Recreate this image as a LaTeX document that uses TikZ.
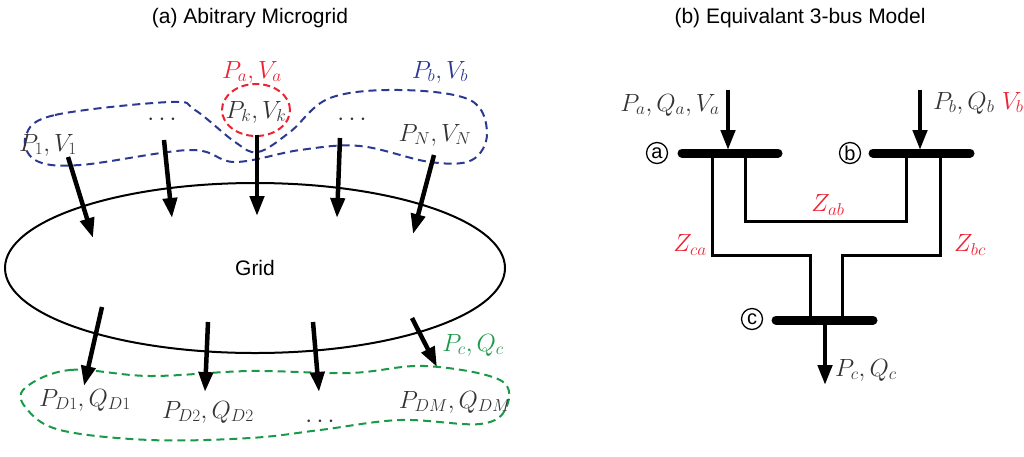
\documentclass[tikz,border=0pt]{standalone}
\usepackage{fontspec}
\setsansfont{Liberation Sans}
\usetikzlibrary{arrows.meta,shapes.geometric}
\definecolor{myred}{HTML}{EE2233}
\definecolor{myblue}{HTML}{2B3990}
\definecolor{mygreen}{HTML}{1A9A48}
\definecolor{txt}{HTML}{333333}
\begin{document}
\begin{tikzpicture}[x=1pt,y=-1pt,
  lbl/.style={font=\fontsize{24}{28}\selectfont,text=txt,inner sep=0pt},
  ttl/.style={font=\sffamily\fontsize{21}{24}\selectfont,inner sep=0pt},
  arr/.style={line width=4.5pt,-{Triangle[length=20pt,width=14pt]}},
  bus/.style={line width=9pt,line cap=round},
  wire/.style={line width=3pt},
  circ/.style={circle,draw,line width=1.3pt,inner sep=0.5pt,minimum size=21pt,font=\sffamily\fontsize{20}{20}\selectfont}]
\useasboundingbox (0,0) rectangle (1024,456);
\node[ttl] (ta) at (250,18) {(a) Abitrary Microgrid};
\node[ttl] (tb) at (800,18) {(b) Equivalant 3-bus Model};
% ellipse
\node[draw,ellipse,line width=2pt,minimum width=500pt,minimum height=170pt,inner sep=0pt,font=\sffamily\fontsize{21}{24}\selectfont] (grid) at (255,268) {Grid};
% dashed outlines
\draw[myblue,line width=2pt,dash pattern=on 8pt off 5pt] plot[smooth cycle,tension=0.6] coordinates {(26,135)(55,115)(170,102)(195,110)(235,142)(258,152)(290,132)(330,98)(400,90)(470,100)(487,133)(472,160)(430,162)(360,146)(300,150)(235,162)(190,150)(80,165)(35,160)};
\draw[myred,line width=2pt,dash pattern=on 7pt off 4pt] (256,110) ellipse (34pt and 26pt);
\draw[mygreen,line width=2pt,dash pattern=on 8pt off 5pt] plot[smooth cycle,tension=0.6] coordinates {(25,388)(70,370)(150,376)(250,371)(350,373)(425,366)(500,380)(506,408)(480,424)(400,420)(320,430)(250,438)(150,440)(60,430)(26,408)};
% top labels
\node[lbl] (p1) at (48,145) {$P_1,V_1$};
\node[lbl] (d1) at (162,120) {$\cdots$};
\node[lbl] (pk) at (256,112) {$P_k,V_k$};
\node[lbl] (d2) at (352,120) {$\cdots$};
\node[lbl] (pn) at (435,135) {$P_N,V_N$};
\node[lbl,text=myred] (pa) at (252,72) {$P_a,V_a$};
\node[lbl,text=myblue] (pb) at (440,72) {$P_b,V_b$};
\coordinate (s1) at (68,157); \coordinate (e1) at (93,238);
\coordinate (s2) at (164,140); \coordinate (e2) at (172,218);
\coordinate (s3) at (257,135); \coordinate (e3) at (257,216);
\coordinate (s4) at (340,138); \coordinate (e4) at (337,218);
\coordinate (s5) at (434,155); \coordinate (e5) at (413,234);
\foreach \i in {1,...,5} \draw[arr] (s\i) -- (e\i);
% bottom
\node[lbl] (pd1) at (85,400) {$P_{D1},Q_{D1}$};
\node[lbl] (pd2) at (208,412) {$P_{D2},Q_{D2}$};
\node[lbl] (d3) at (320,422) {$\cdots$};
\node[lbl] (pdm) at (455,402) {$P_{DM},Q_{DM}$};
\node[lbl,text=mygreen] (pc) at (473,345) {$P_c,Q_c$};
\coordinate (b1) at (102,307); \coordinate (f1) at (84,386);
\coordinate (b2) at (208,322); \coordinate (f2) at (205,392);
\coordinate (b3) at (313,322); \coordinate (f3) at (319,392);
\coordinate (b4) at (412,318); \coordinate (f4) at (437,367);
\foreach \i in {1,...,4} \draw[arr] (b\i) -- (f\i);
% right model
\coordinate (a1) at (682,153); \coordinate (a2) at (778,153);
\coordinate (bb1) at (873,153); \coordinate (bb2) at (970,153);
\coordinate (c1) at (776,320); \coordinate (c2) at (873,320);
\draw[bus] (a1) -- (a2); \draw[bus] (bb1) -- (bb2); \draw[bus] (c1) -- (c2);
\node[circ] (ca) at (657,153) {a};
\node[circ] (cb) at (850,153) {b};
\node[circ] (cc) at (752,319) {c};
\draw[wire] (712,153) -- (712,255) -- (810,255) -- (810,320);
\draw[wire] (745,153) -- (745,221) -- (906,221) -- (906,153);
\draw[wire] (940,153) -- (940,255) -- (842,255) -- (842,320);
\coordinate (ia) at (728,90); \coordinate (ja) at (728,150);
\coordinate (ib) at (920,90); \coordinate (jb) at (920,150);
\coordinate (ic) at (825,325); \coordinate (jc) at (825,385);
\draw[arr] (ia) -- (ja); \draw[arr] (ib) -- (jb); \draw[arr] (ic) -- (jc);
\node[lbl] (la) at (670,105) {$P_a,Q_a,V_a$};
\node[lbl,anchor=west] (lb) at (933,103) {$P_b,Q_b$ \textcolor{myred}{$V_b$}};
\node[lbl,anchor=west] (lc) at (835,370) {$P_c,Q_c$};
\node[lbl,text=myred] (zab) at (828,205) {$Z_{ab}$};
\node[lbl,text=myred] (zca) at (690,245) {$Z_{ca}$};
\node[lbl,text=myred] (zbc) at (970,245) {$Z_{bc}$};
\end{tikzpicture}
\end{document}
